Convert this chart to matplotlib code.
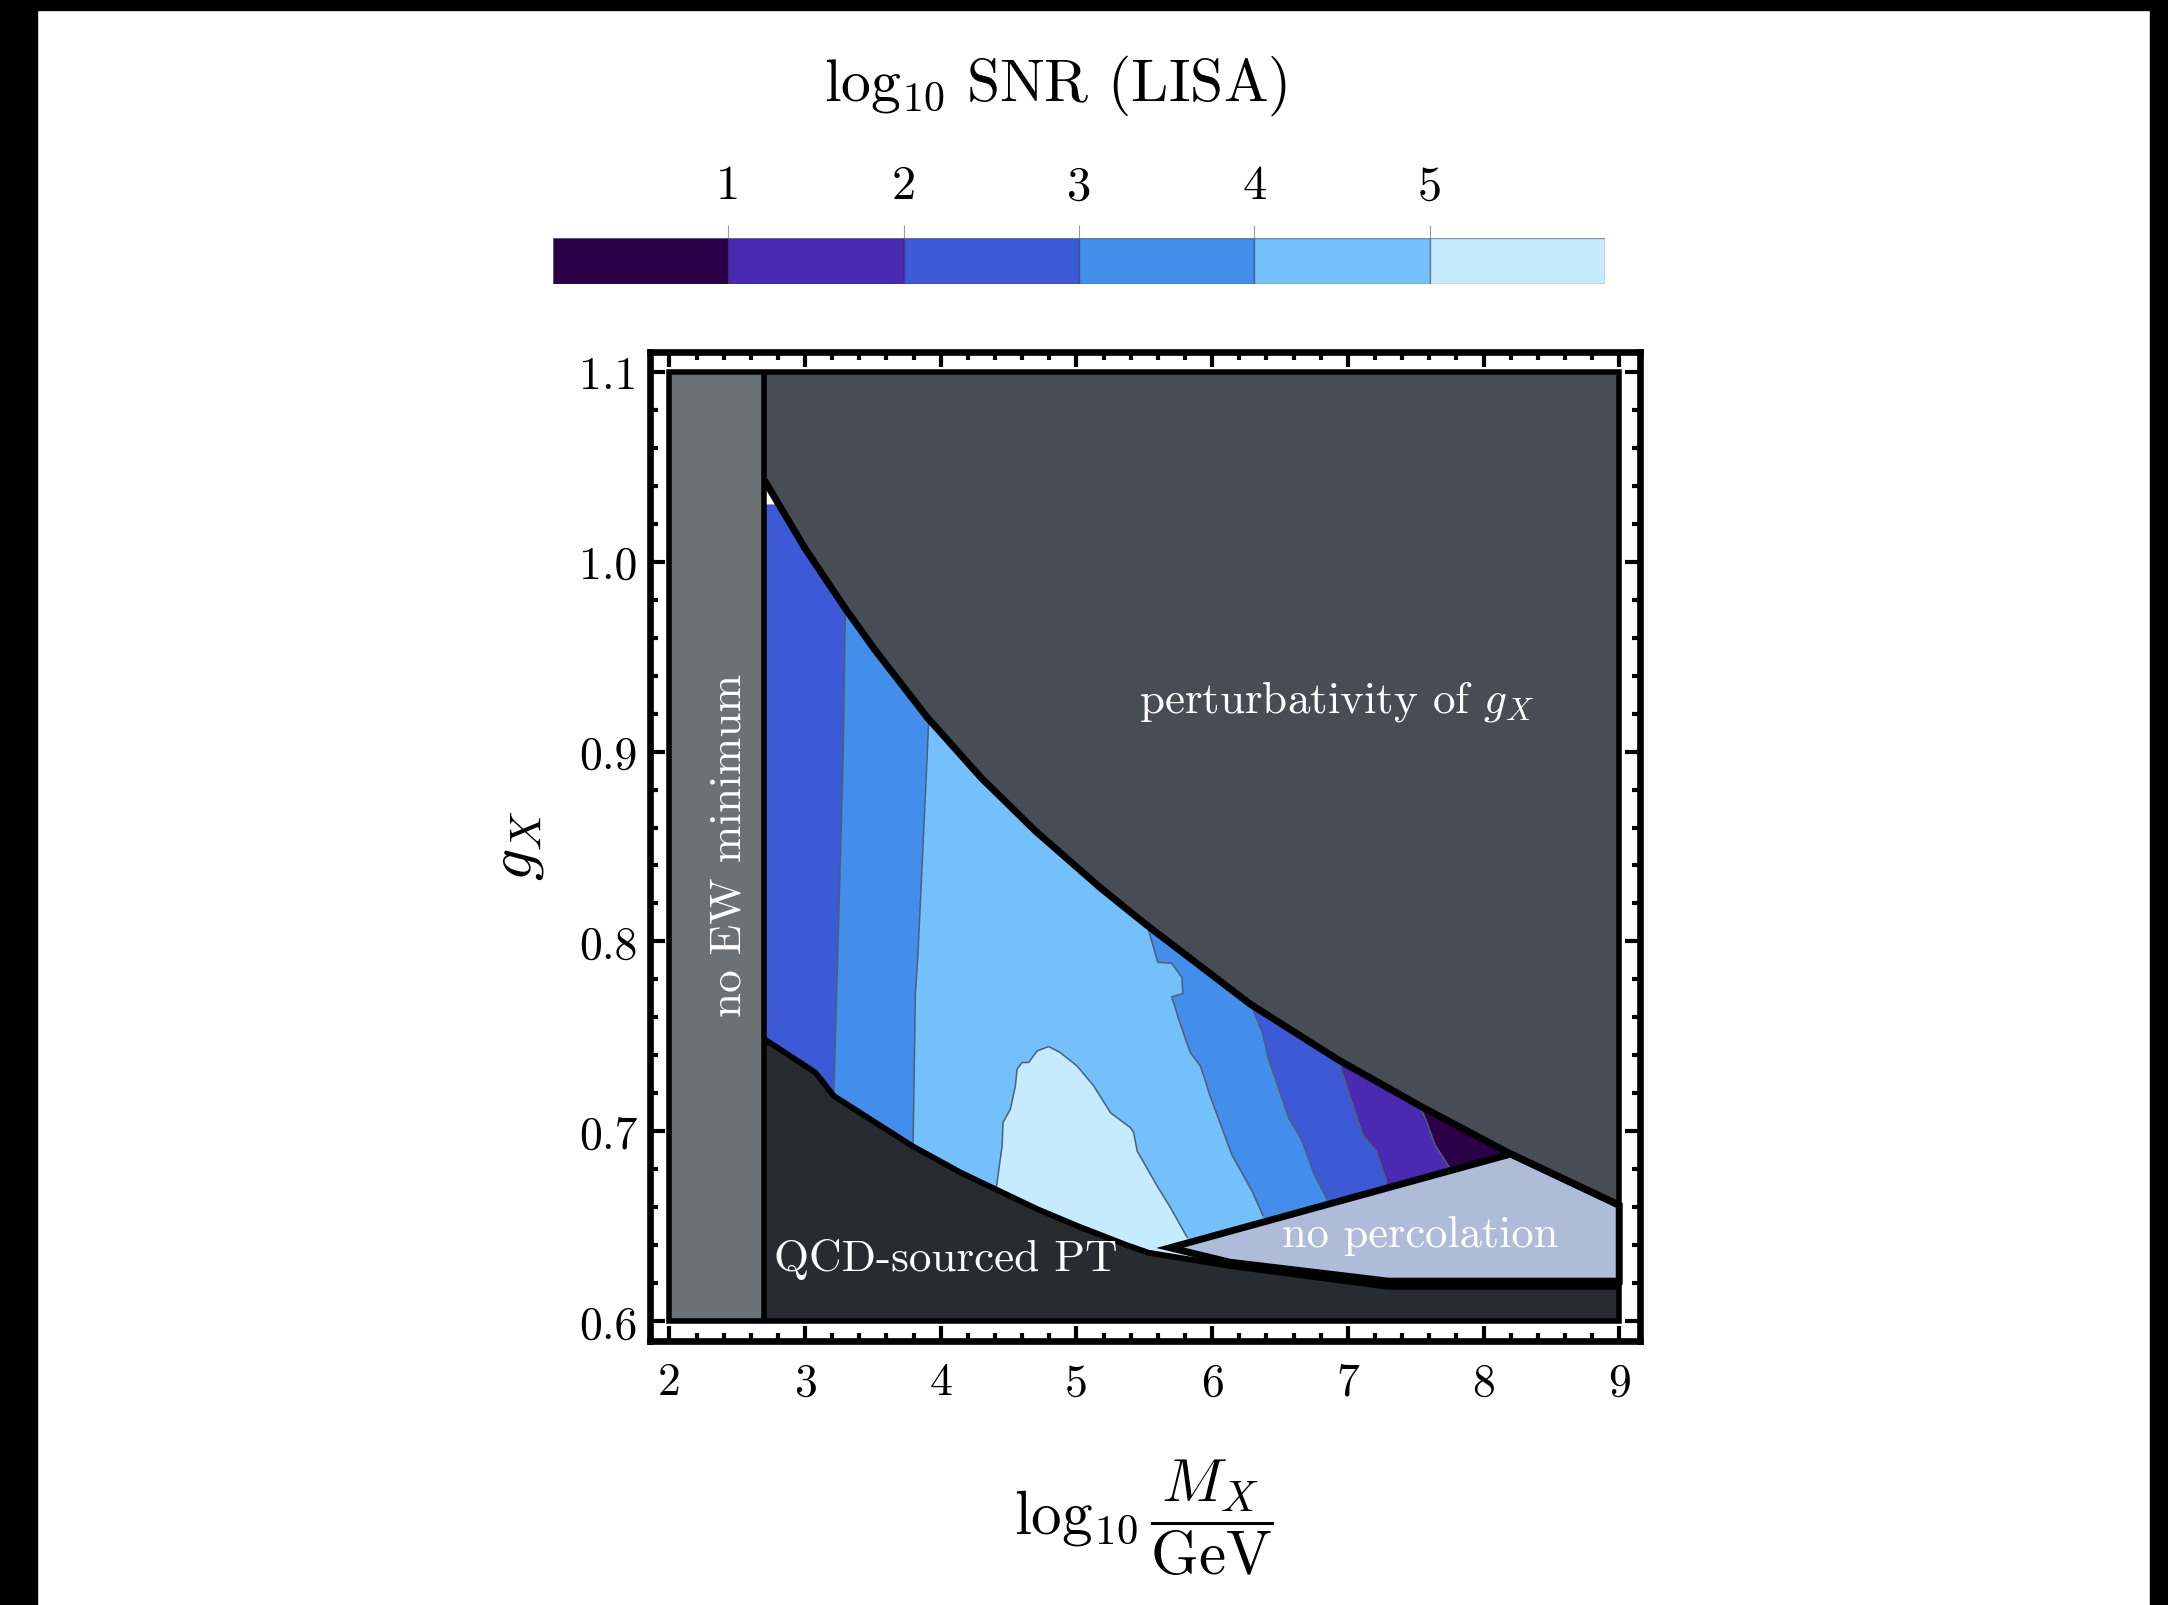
import numpy as np
import matplotlib
matplotlib.use("Agg")
import matplotlib.pyplot as plt
from matplotlib.patches import Polygon, Rectangle
from matplotlib.ticker import MultipleLocator

plt.rcParams['font.family'] = ['cmr10']
plt.rcParams['mathtext.fontset'] = 'cm'
plt.rcParams['axes.formatter.use_mathtext'] = True

# log10 SNR bands and their colours
snr_levels = [0, 1, 2, 3, 4, 5, 6]
snr_colors = ['#2C0049', '#4A2AB0', '#3C59D6', '#438DEB', '#74C0FA', '#C6EBFE']
cbar_ticks = [1, 2, 3, 4, 5]

# plot range and axis ticks
x_min, x_max = 2.0, 9.0
y_min, y_max = 0.6, 1.1
x_ticks = [2, 3, 4, 5, 6, 7, 8, 9]
x_ticklabels = ['2', '3', '4', '5', '6', '7', '8', '9']
y_ticks = [0.6, 0.7, 0.8, 0.9, 1.0, 1.1]
y_ticklabels = ['0.6', '0.7', '0.8', '0.9', '1.0', '1.1']

ew_xmax = 2.70     # no EW minimum to the left of this
grid_top = 1.03    # scan of g_X stops here

# perturbativity bound (upper edge of the allowed region)
pert_x = [2.70, 3.00, 3.30, 3.51, 3.90, 4.30, 4.70, 5.18, 5.51, 6.28, 6.92, 7.54, 8.20, 9.00]
pert_y = [1.043, 1.007, 0.975, 0.954, 0.918, 0.886, 0.858, 0.828, 0.809, 0.767, 0.738, 0.713, 0.688, 0.661]

# QCD-sourced PT bound (lower edge)
qcd_x = [2.70, 3.076, 3.125, 3.211, 3.788, 4.144, 4.71, 5.01, 5.37, 5.53, 6.13, 7.30, 9.00]
qcd_y = [0.7485, 0.7309, 0.7265, 0.7186, 0.6923, 0.6783, 0.659, 0.650, 0.640, 0.636, 0.629, 0.618, 0.618]

# no percolation wedge
noperc_top_x = [5.69, 8.20]
noperc_top_y = [0.6386, 0.688]
noperc_bot_x = [5.69, 6.13, 7.30, 9.00]
noperc_bot_y = [0.6386, 0.631, 0.621, 0.621]

# SNR contour lines, bottom to top
c1_right_x = [7.744, 7.642, 7.579, 7.541]
c1_right_y = [0.6814, 0.6929, 0.7053, 0.7115]
c2_right_x = [7.287, 7.211, 7.109, 6.995, 6.931]
c2_right_y = [0.6735, 0.6894, 0.6982, 0.723, 0.7372]
c3_left_x = [3.211, 3.240, 3.280, 3.297]
c3_left_y = [0.7186, 0.7905, 0.896, 0.975]
c3_right_x = [6.843, 6.754, 6.652, 6.563, 6.411, 6.373, 6.272]
c3_right_y = [0.6646, 0.677, 0.6965, 0.707, 0.739, 0.7513, 0.769]
c4_left_x = [3.796, 3.813, 3.830, 3.899, 3.911]
c4_left_y = [0.6923, 0.773, 0.7905, 0.896, 0.917]
c4_right_x = [6.373, 6.297, 6.145, 5.980, 5.942, 5.913, 5.839, 5.753, 5.726, 5.701, 5.784, 5.777, 5.701, 5.599, 5.523]
c4_right_y = [0.6558, 0.6681, 0.6876, 0.7195, 0.7283, 0.7344, 0.7414, 0.759, 0.7655, 0.7708, 0.7726, 0.781, 0.7885, 0.789, 0.808]
# SNR > 5 island, left foot to right foot
c5_x = [4.410, 4.452, 4.459, 4.513, 4.550, 4.562, 4.599, 4.648, 4.710, 4.795, 4.881, 5.004,
        5.127, 5.250, 5.397, 5.422, 5.447, 5.594, 5.692, 5.815]
c5_y = [0.6704, 0.6923, 0.7046, 0.7116, 0.7239, 0.7326, 0.7362, 0.7362, 0.7423, 0.7446, 0.7414, 0.7344,
        0.7239, 0.7098, 0.7019, 0.6993, 0.6896, 0.6712, 0.6598, 0.6442]

col_ew = '#6B7276'
col_pert = '#474D55'
col_qcd = '#282B2F'
col_noperc = '#AEBBD9'
col_contour = '#4A6079'

Y_LO, Y_HI = 0.5, 1.2   # only used to close band polygons outside the frame


def closed_line(xs, ys):
    return [xs[0]] + list(xs) + [xs[-1]], [Y_LO] + list(ys) + [Y_HI]


def band_poly(left, right):
    if left is None:
        lx, ly = [x_min, x_min], [Y_LO, Y_HI]
    else:
        lx, ly = closed_line(*left)
    rx, ry = closed_line(*right)
    return lx + rx[::-1], ly + ry[::-1]


fig = plt.figure(figsize=(21.68, 16.06), dpi=100)
fig.patch.set_facecolor('white')
# black viewer border
for r in [(0, 0, 0.0172, 1), (0.9917, 0, 0.0083, 1), (0, 0.9932, 1, 0.0068)]:
    fig.patches.append(Rectangle(r[:2], r[2], r[3], transform=fig.transFigure, color='black', zorder=0))

ax = fig.add_axes([0.2998, 0.1644, 0.4566, 0.6158])
ax.set_xlim(1.857, 9.152)
ax.set_ylim(0.5895, 1.1105)

# excluded regions
ax.fill_between([x_min, ew_xmax], y_min, y_max, color=col_ew, lw=0, zorder=1)
ax.fill_between(pert_x, pert_y, y_max, color=col_pert, lw=0, zorder=1)
ax.fill_between(qcd_x, y_min, qcd_y, color=col_qcd, lw=0, zorder=1)

# allowed region used as clip for the SNR bands
x_cut = np.interp(grid_top, pert_y[::-1], pert_x[::-1])
up = [(ew_xmax, grid_top), (x_cut, grid_top)] + [(x, y) for x, y in zip(pert_x, pert_y) if x > x_cut]
low = list(zip(qcd_x, qcd_y))[::-1]
clip = Polygon(up + low, closed=True, transform=ax.transData)

band_shapes = [
    (None, (c1_right_x, c1_right_y)),
    (None, (c2_right_x, c2_right_y)),
    ((c3_left_x, c3_left_y), (c3_right_x, c3_right_y)),
    ((c4_left_x, c4_left_y), (c4_right_x, c4_right_y)),
]
ax.fill([p[0] for p in up + low], [p[1] for p in up + low], color=snr_colors[0], lw=0, zorder=2)
for i, (left, right) in enumerate(band_shapes):
    bx, by = band_poly(left, right)
    for p in ax.fill(bx, by, color=snr_colors[i + 1], lw=0, zorder=2):
        p.set_clip_path(clip)
ix = [c5_x[0]] + c5_x + [c5_x[-1]]
iy = [Y_LO] + c5_y + [Y_LO]
for p in ax.fill(ix, iy, color=snr_colors[5], lw=0, zorder=2):
    p.set_clip_path(clip)

for cx, cy in [(c1_right_x, c1_right_y), (c2_right_x, c2_right_y), (c3_left_x, c3_left_y),
               (c3_right_x, c3_right_y), (c4_left_x, c4_left_y), (c4_right_x, c4_right_y), (c5_x, c5_y)]:
    ln, = ax.plot(cx, cy, color=col_contour, lw=1.1, zorder=3)
    ln.set_clip_path(clip)

# no percolation wedge
np_vx = noperc_top_x + [x for x in pert_x if x > noperc_top_x[-1]] + noperc_bot_x[::-1]
np_vy = noperc_top_y + [y for x, y in zip(pert_x, pert_y) if x > noperc_top_x[-1]] + noperc_bot_y[::-1]
ax.fill(np_vx, np_vy, facecolor=col_noperc, edgecolor='black', lw=5, joinstyle='miter', zorder=4)

# black boundaries
ax.plot(pert_x, pert_y, color='black', lw=5, solid_capstyle='butt', solid_joinstyle='round', zorder=5)
ax.plot(qcd_x, qcd_y, color='black', lw=4.2, solid_capstyle='butt', solid_joinstyle='round', zorder=5)
ax.vlines(ew_xmax, y_min, y_max, color='black', lw=4, zorder=5)
ax.add_patch(Rectangle((x_min, y_min), x_max - x_min, y_max - y_min, fill=False,
                       edgecolor='black', lw=4, zorder=6))

# region labels
ax.text(2.44, 0.851, 'no EW minimum', rotation=90, color='white', fontsize=32.5,
        ha='center', va='center', zorder=7)
ax.text(6.92, 0.927, 'perturbativity of $g_X$', color='white', fontsize=32.5,
        ha='center', va='center', zorder=7)
ax.text(4.04, 0.633, 'QCD-sourced PT', color='white', fontsize=32.5,
        ha='center', va='center', zorder=7)
ax.text(7.53, 0.6455, 'no percolation', color='white', fontsize=32,
        ha='center', va='center', zorder=7)

# frame and ticks
for s in ax.spines.values():
    s.set_linewidth(4.8)
ax.set_xticks(x_ticks, x_ticklabels)
ax.set_yticks(y_ticks, y_ticklabels)
ax.xaxis.set_minor_locator(MultipleLocator(0.2))
ax.yaxis.set_minor_locator(MultipleLocator(0.02))
ax.tick_params(which='both', direction='in', top=True, right=True, width=3, color='black')
ax.tick_params(which='major', length=10.5, labelsize=33)
ax.tick_params(which='minor', length=6)
ax.tick_params(axis='x', which='major', pad=15)
ax.tick_params(axis='y', which='major', pad=9)

fig.text(0.2385, 0.4732, '$g_X$', rotation=90, fontsize=46, ha='center', va='center')
fig.text(0.5277, 0.055, r'$\log_{10}\dfrac{M_X}{\mathrm{GeV}}$', fontsize=44, ha='center', va='center')

# colour bar
cax = fig.add_axes([0.2551, 0.8225, 0.4852, 0.0286])
cax.bar(snr_levels[:-1], 1, width=1, align='edge', color=snr_colors,
        edgecolor=(0.1, 0.15, 0.3, 0.45), lw=1.0)
cax.set_xlim(snr_levels[0], snr_levels[-1])
cax.set_ylim(0, 1)
for s in cax.spines.values():
    s.set_visible(False)
cax.set_yticks([])
cax.xaxis.tick_top()
cax.set_xticks(cbar_ticks, [str(t) for t in cbar_ticks])
cax.tick_params(axis='x', direction='out', length=9.5, width=0.8, color='#9a9a9a', pad=12, labelsize=35)
fig.text(0.4871, 0.9465, r'$\log_{10}\,$SNR (LISA)', fontsize=43, ha='center', va='center')

fig.savefig('out.png', dpi=100)
